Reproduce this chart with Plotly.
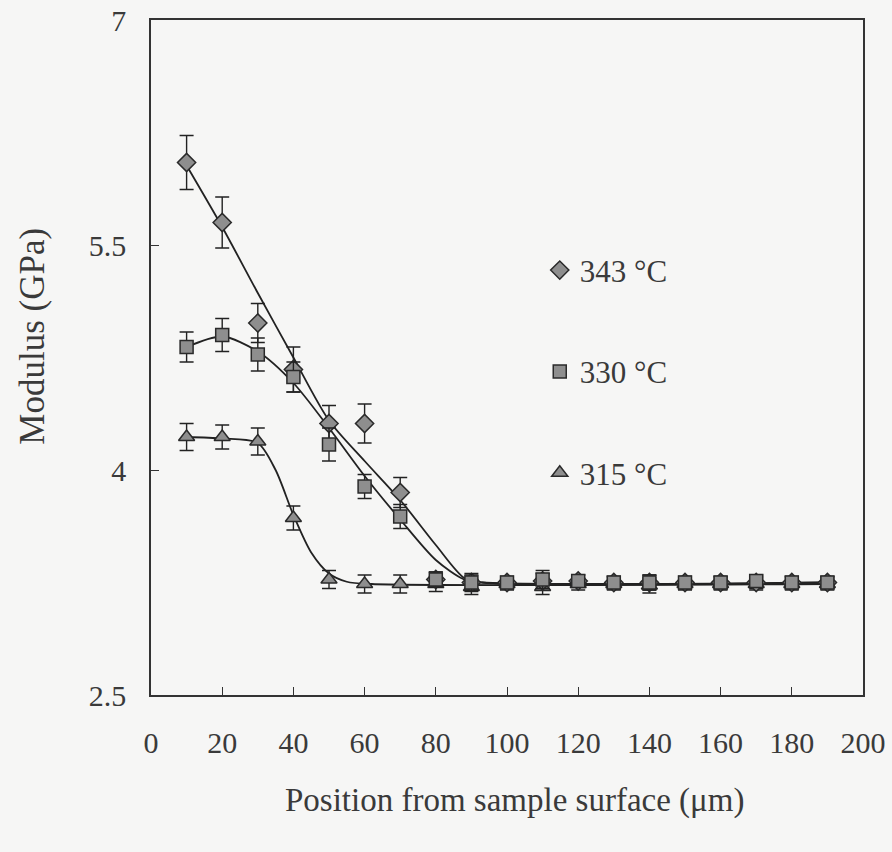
import plotly.graph_objects as go

# Measured data (position in um, modulus in GPa)
x_pos = [10, 20, 30, 40, 50, 60, 70, 80, 90, 100, 110, 120, 130, 140, 150, 160, 170, 180, 190]

mod_343 = [6.05, 5.65, 4.98, 4.67, 4.31, 4.31, 3.85, 3.27, 3.25, 3.25, 3.26, 3.26, 3.25, 3.25, 3.25, 3.25, 3.25, 3.25, 3.25]
err_343 = [0.18, 0.17, 0.13, 0.15, 0.12, 0.13, 0.10, 0.05, 0.05, 0.04, 0.05, 0.04, 0.04, 0.05, 0.04, 0.04, 0.04, 0.04, 0.04]

mod_330 = [4.82, 4.90, 4.77, 4.62, 4.17, 3.89, 3.69, 3.27, 3.25, 3.25, 3.27, 3.26, 3.25, 3.25, 3.25, 3.25, 3.26, 3.25, 3.25]
err_330 = [0.10, 0.11, 0.11, 0.10, 0.11, 0.08, 0.08, 0.05, 0.06, 0.04, 0.06, 0.04, 0.04, 0.05, 0.04, 0.04, 0.04, 0.04, 0.04]

mod_315 = [4.22, 4.22, 4.19, 3.68, 3.27, 3.24, 3.24, 3.24, 3.22, 3.24, 3.22, 3.24, 3.24, 3.23, 3.24, 3.24, 3.24, 3.24, 3.24]
err_315 = [0.09, 0.08, 0.09, 0.08, 0.06, 0.06, 0.06, 0.05, 0.05, 0.04, 0.05, 0.04, 0.04, 0.05, 0.04, 0.04, 0.04, 0.04, 0.04]

# Fitted curves
fit_x_343 = [10, 20, 30, 40, 50, 60, 70, 80, 88, 93, 190]
fit_y_343 = [6.03, 5.62, 5.18, 4.75, 4.33, 4.06, 3.80, 3.50, 3.28, 3.25, 3.25]

fit_x_330 = [10, 20, 30, 40, 50, 60, 70, 80, 88, 93, 190]
fit_y_330 = [4.82, 4.89, 4.79, 4.58, 4.28, 3.96, 3.67, 3.40, 3.27, 3.25, 3.25]

fit_x_315 = [10, 20, 30, 35, 40, 45, 50, 55, 62, 190]
fit_y_315 = [4.22, 4.21, 4.18, 4.00, 3.70, 3.45, 3.31, 3.255, 3.24, 3.24]

labels = ["343 °C", "330 °C", "315 °C"]
x_title = "Position from sample surface (μm)"
y_title = "Modulus (GPa)"

FONT = "Liberation Serif"
MFILL = "#8e8e8e"
MLINE = "#2a2a2a"
TXT = "#3a3a3a"

fig = go.Figure()

# fit lines
for fx, fy in [(fit_x_315, fit_y_315), (fit_x_330, fit_y_330), (fit_x_343, fit_y_343)]:
    fig.add_trace(go.Scatter(x=fx, y=fy, mode="lines",
                             line=dict(color="#222", width=1.8, shape="spline", smoothing=0.8),
                             showlegend=False, hoverinfo="skip"))

series = [
    (mod_315, err_315, "triangle-up", labels[2], 14, 3),
    (mod_343, err_343, "diamond", labels[0], 14, 1),
    (mod_330, err_330, "square", labels[1], 13, 2),
]
for ys, es, sym, name, sz, rank in series:
    fig.add_trace(go.Scatter(
        x=x_pos, y=ys, mode="markers", name=name,
        marker=dict(symbol=sym, size=sz, color=MFILL, line=dict(color=MLINE, width=1.5)),
        error_y=dict(type="data", array=es, visible=True, color="#222", thickness=1.4, width=7),
        legendgroup=name, legendrank=rank,
    ))

fig.update_layout(
    width=892, height=852,
    margin=dict(l=151, r=29, t=20, b=157),
    paper_bgcolor="#f6f6f5", plot_bgcolor="#f6f6f5",
    font=dict(family=FONT, size=30, color=TXT),
    legend=dict(x=0.546, y=0.669, xanchor="left", yanchor="top", traceorder="grouped",
                tracegroupgap=58, bgcolor="rgba(0,0,0,0)",
                font=dict(size=31, family=FONT, color=TXT), itemwidth=30),
    xaxis=dict(range=[0, 200], tickvals=[0, 20, 40, 60, 80, 100, 120, 140, 160, 180, 200],
               showline=True, mirror=True, linecolor="#333", linewidth=1.5,
               ticks="inside", ticklen=8, tickcolor="#333", showgrid=False, zeroline=False,
               ticklabelstandoff=20, automargin=False),
    yaxis=dict(range=[2.5, 7], tickvals=[2.5, 4, 5.5, 7],
               showline=True, mirror=True, linecolor="#333", linewidth=1.5,
               ticks="inside", ticklen=8, tickcolor="#333", showgrid=False, zeroline=False,
               ticklabelstandoff=17, automargin=False),
    annotations=[
        dict(text=x_title, xref="paper", yref="paper", x=0.511, y=-0.156,
             xanchor="center", yanchor="middle", showarrow=False, font=dict(size=33, family=FONT, color=TXT)),
        dict(text=y_title, xref="paper", yref="paper", x=-0.166, y=0.532, textangle=-90,
             xanchor="center", yanchor="middle", showarrow=False, font=dict(size=35, family=FONT, color=TXT)),
    ],
)

fig.write_html("out.html", config={"displayModeBar": False},
               post_script="document.body.style.margin='0px';document.body.style.background='#f6f6f5';")
